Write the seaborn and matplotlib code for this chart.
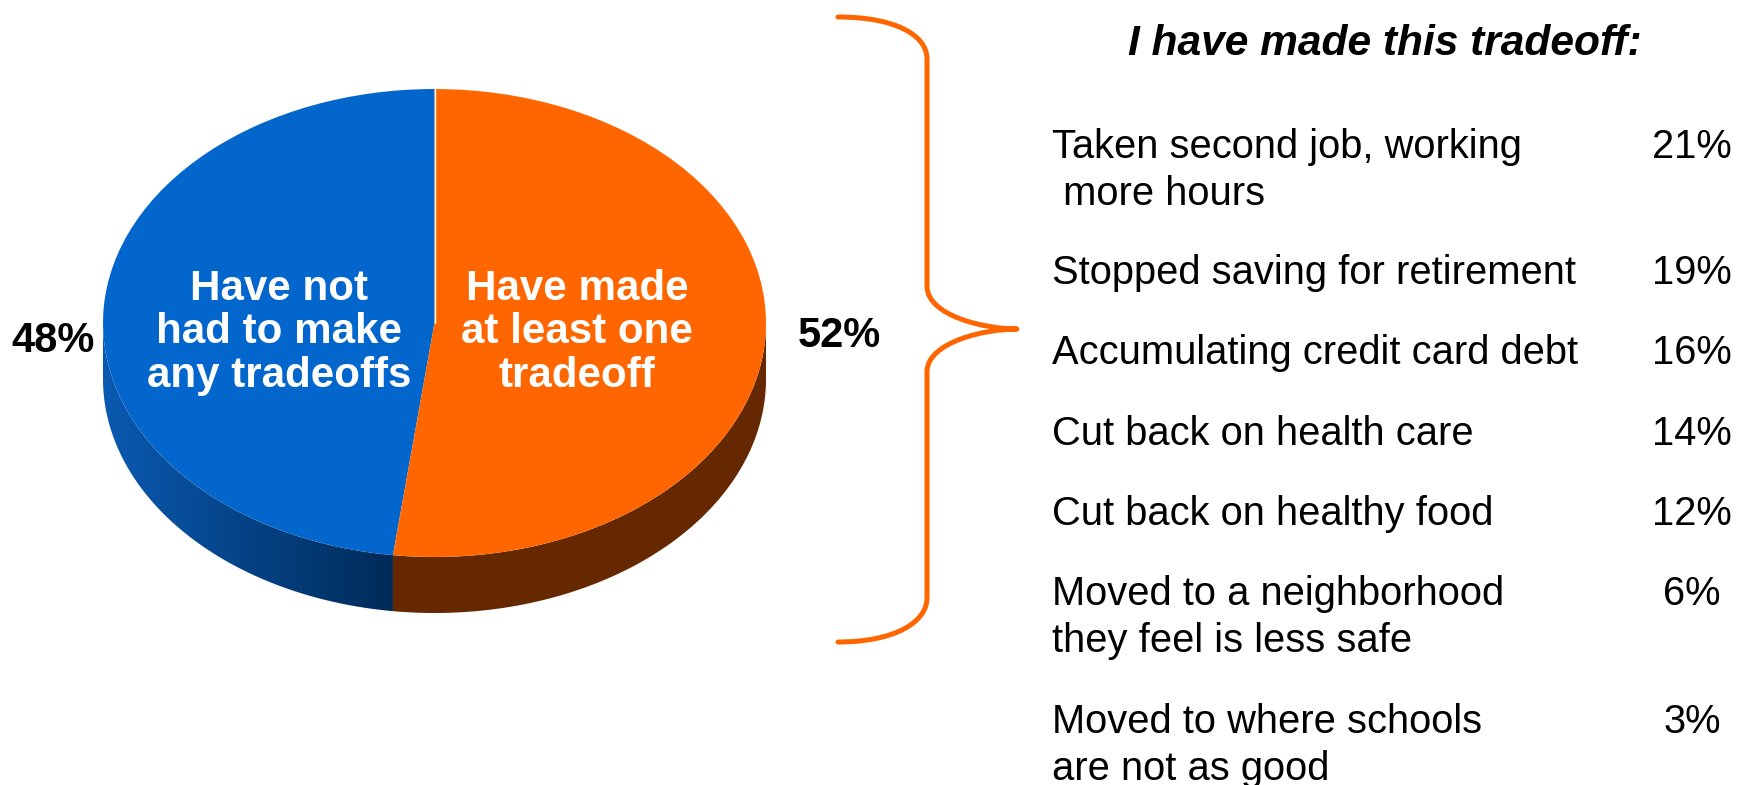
import numpy as np
import matplotlib
matplotlib.use("Agg")
import matplotlib.pyplot as plt
from matplotlib.path import Path
from matplotlib.patches import PathPatch, Polygon
from matplotlib.colors import LinearSegmentedColormap
import seaborn as sns

# ---------------- data ----------------
pie_labels = ["Have not\nhad to make\nany tradeoffs", "Have made\nat least one\ntradeoff"]
pie_values = [48, 52]
title_text = "I have made this tradeoff:"
tradeoffs = [
    "Taken second job, working\n more hours",
    "Stopped saving for retirement",
    "Accumulating credit card debt",
    "Cut back on health care",
    "Cut back on healthy food",
    "Moved to a neighborhood\nthey feel is less safe",
    "Moved to where schools\nare not as good",
]
tradeoff_pct = [21, 19, 16, 14, 12, 6, 3]

# ---------------- style ----------------
sns.set_theme(style="white")
plt.rcParams["font.family"] = ["Liberation Sans", "DejaVu Sans"]
top_colors = sns.color_palette(["#0366CC", "#FF6600"])
side_orange = "#652800"
blue_side_cmap = LinearSegmentedColormap.from_list("bs", ["#0A5AB2", "#002B58"])

W, H = 1737, 785
fig = plt.figure(figsize=(W / 100, H / 100), dpi=100)
fig.patch.set_facecolor("white")

# ---------------- 3D-look pie ----------------
px_left, px_right = 103, 766
px_top, px_face_bottom, px_side_bottom = 89, 557, 613
ry_px = (px_face_bottom - px_top) / 2
D = (px_side_bottom - px_face_bottom) / ry_px  # depth in ellipse units

ax_pie = fig.add_axes([px_left / W, (H - px_side_bottom) / H,
                       (px_right - px_left) / W, (px_side_bottom - px_top) / H])
wedges, _ = ax_pie.pie(pie_values, colors=top_colors, startangle=90,
                       counterclock=True, wedgeprops=dict(linewidth=0))
for w in wedges:
    w.set_zorder(3)
ax_pie.set_aspect("auto")
ax_pie.axis("off")

# side walls derived from the wedge angles
split = np.deg2rad(wedges[0].theta2)


def side_poly(a0, a1):
    th = np.linspace(a0, a1, 200)
    top = np.column_stack([np.cos(th), np.sin(th)])
    bot = np.column_stack([np.cos(th[::-1]), np.sin(th[::-1]) - D])
    return np.vstack([top, bot])


blue_side = Polygon(side_poly(np.pi, split), closed=True, facecolor="none",
                    edgecolor="none", zorder=1)
ax_pie.add_patch(blue_side)
grad = np.linspace(0, 1, 256).reshape(1, -1)
im = ax_pie.imshow(grad, cmap=blue_side_cmap, aspect="auto",
                   extent=[-1, np.cos(split), -1 - D, 0], zorder=1)
im.set_clip_path(blue_side)
ax_pie.add_patch(Polygon(side_poly(split, 2 * np.pi), closed=True,
                         facecolor=side_orange, edgecolor="none", zorder=1))
# thin white seam at the start of the first wedge
t1 = np.deg2rad(wedges[0].theta1)
ax_pie.plot([0, np.cos(t1)], [0, np.sin(t1) * 0.999], color="white", lw=1, zorder=4)
ax_pie.set_xlim(-1, 1)
ax_pie.set_ylim(-1 - D, 1)

# ---------------- overlay (texts + brace) ----------------
ov = fig.add_axes([0, 0, 1, 1])
ov.set_xlim(0, W)
ov.set_ylim(H, 0)
ov.axis("off")
ov.patch.set_alpha(0)

# labels inside the pie
label_x = [279, 577]
for lab, x in zip(pie_labels, label_x):
    for i, line in enumerate(lab.split("\n")):
        ov.text(x, 300 + i * 43.3, line, ha="center", va="baseline",
                color="white", fontsize=30.3, fontweight="bold")

# percentage labels outside
ov.text(53, 352, f"{pie_values[0]}%", ha="center", va="baseline",
        fontsize=30, fontweight="bold", color="black")
ov.text(839, 347, f"{pie_values[1]}%", ha="center", va="baseline",
        fontsize=30, fontweight="bold", color="black")

# curly brace
verts = [(838, 17), (895, 17), (927, 35), (927, 59),
         (927, 286),
         (927, 316), (985, 329), (1017, 329),
         (985, 329), (927, 342), (927, 372),
         (927, 598),
         (927, 622), (895, 642), (838, 642)]
codes = [Path.MOVETO, Path.CURVE4, Path.CURVE4, Path.CURVE4,
         Path.LINETO,
         Path.CURVE4, Path.CURVE4, Path.CURVE4,
         Path.CURVE4, Path.CURVE4, Path.CURVE4,
         Path.LINETO,
         Path.CURVE4, Path.CURVE4, Path.CURVE4]
ov.add_patch(PathPatch(Path(verts, codes), facecolor="none", edgecolor="#FF6600",
                       lw=3.6, capstyle="round", joinstyle="round"))

# right-hand list
ov.text(1385, 55, title_text, ha="center", va="baseline", fontsize=30.6,
        fontweight="bold", fontstyle="italic", color="black")
row_baselines = [157.5, 284.5, 364.5, 445, 525, 605, 733]
line_step = 47.5
for txt, pct, yb in zip(tradeoffs, tradeoff_pct, row_baselines):
    for i, line in enumerate(txt.split("\n")):
        ov.text(1052, yb + i * line_step, line, ha="left", va="baseline",
                fontsize=28.7, color="black")
    ov.text(1692, yb, f"{pct}%", ha="center", va="baseline",
            fontsize=28.7, color="black")

fig.savefig("out.png", dpi=100, facecolor="white")
